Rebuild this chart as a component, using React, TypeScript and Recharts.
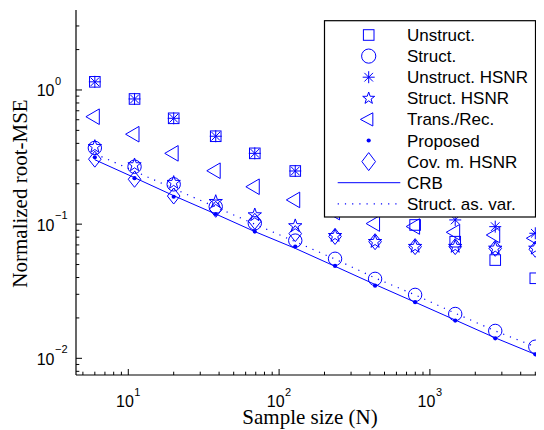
import React from 'react';
import { LineChart, Line, XAxis, YAxis } from 'recharts';

// ---------------- data ----------------
const sampleSizes = [6, 11, 20, 38, 69, 128, 235, 433, 798, 1472, 2712, 5000];
const unstruct = [1.15, 0.857, 0.615, 0.452, 0.337, 0.249, 0.185, 0.135, 0.0986, 0.074, 0.054, 0.0395];
const structured = [0.37, 0.268, 0.198, 0.135, 0.1016, 0.0754, 0.0552, 0.0391, 0.0297, 0.0214, 0.016, 0.0122];
const unstructHSNR = [1.15, 0.857, 0.615, 0.452, 0.337, 0.249, 0.19, 0.15, 0.125, 0.1075, 0.0958, 0.0855];
const structHSNR = [0.378, 0.276, 0.204, 0.147, 0.117, 0.097, 0.082, 0.074, 0.068, 0.068, 0.066, 0.066];
const transRec = [0.632, 0.468, 0.337, 0.25, 0.19, 0.1515, 0.123, 0.101, 0.096, 0.087, 0.083, 0.0785];
const proposed = [0.315, 0.22, 0.16, 0.119, 0.088, 0.068, 0.0488, 0.0348, 0.0262, 0.0191, 0.0141, 0.0107];
const covHSNR = [0.305, 0.216, 0.162, 0.129, 0.105, 0.085, 0.081, 0.074, 0.068, 0.068, 0.066, 0.065];
const crb = [0.302, 0.222, 0.163, 0.119, 0.088, 0.066, 0.0485, 0.0355, 0.0262, 0.0193, 0.0142, 0.0107];
const structAsVar = [0.335, 0.248, 0.184, 0.134, 0.1, 0.074, 0.0549, 0.0397, 0.0297, 0.0217, 0.016, 0.0122];

const xMajorTicks = [10, 100, 1000];
const xExponents = ['1', '2', '3'];
const xMinorTicks = [5, 6, 7, 8, 9, 20, 30, 40, 50, 60, 70, 80, 90, 200, 300, 400, 500, 600, 700, 800, 900, 2000, 3000, 4000, 5000];
const yMajorTicks = [0.01, 0.1, 1];
const yExponents = ['\u22122', '\u22121', '0'];
const yMinorTicks = [0.008, 0.009, 0.02, 0.03, 0.04, 0.05, 0.06, 0.07, 0.08, 0.09, 0.2, 0.3, 0.4, 0.5, 0.6, 0.7, 0.8, 0.9, 2, 3];

const xTitle = 'Sample size (N)';
const yTitle = 'Normalized root-MSE';

const legendItems = [
  { label: 'Unstruct.', kind: 'square' },
  { label: 'Struct.', kind: 'circle' },
  { label: 'Unstruct. HSNR', kind: 'asterisk' },
  { label: 'Struct. HSNR', kind: 'star' },
  { label: 'Trans./Rec.', kind: 'triangle' },
  { label: 'Proposed', kind: 'dot' },
  { label: 'Cov. m. HSNR', kind: 'diamond' },
  { label: 'CRB', kind: 'solid' },
  { label: 'Struct. as. var.', kind: 'dotted' },
];

const rows = sampleSizes.map((n, i) => ({
  n,
  unstruct: unstruct[i],
  structured: structured[i],
  unstructHSNR: unstructHSNR[i],
  structHSNR: structHSNR[i],
  transRec: transRec[i],
  proposed: proposed[i],
  covHSNR: covHSNR[i],
  crb: crb[i],
  structAsVar: structAsVar[i],
}));

// ---------------- styling ----------------
const BLUE = '#0000ff';
const SANS = '"Liberation Sans", Arial, Helvetica, sans-serif';
const SERIF = '"Liberation Serif", "Times New Roman", Times, serif';
const AXIS_W = 1.2;

function Marker({ kind, cx, cy, big = false }: { kind: string; cx: number; cy: number; big?: boolean }) {
  const s = { fill: 'none', stroke: BLUE, strokeWidth: 1 } as const;
  if (cx == null || cy == null || isNaN(cx) || isNaN(cy)) return null;
  switch (kind) {
    case 'square': {
      const h = 5.3;
      return <rect x={cx - h} y={cy - h} width={2 * h} height={2 * h} {...s} />;
    }
    case 'circle':
      return <circle cx={cx} cy={cy} r={big ? 7.1 : 6.7} {...s} />;
    case 'asterisk': {
      const r = 6;
      const d = r * 0.72;
      return (
        <path
          d={`M${cx - r},${cy}L${cx + r},${cy}M${cx},${cy - r}L${cx},${cy + r}M${cx - d},${cy - d}L${cx + d},${cy + d}M${cx - d},${cy + d}L${cx + d},${cy - d}`}
          {...s}
        />
      );
    }
    case 'star': {
      const R = big ? 6.3 : 7;
      const r = R * 0.4;
      const pts: string[] = [];
      for (let k = 0; k < 10; k++) {
        const a = -Math.PI / 2 + (k * Math.PI) / 5;
        const rr = k % 2 === 0 ? R : r;
        pts.push(`${(cx + rr * Math.cos(a)).toFixed(2)},${(cy + rr * Math.sin(a)).toFixed(2)}`);
      }
      return <polygon points={pts.join(' ')} {...s} />;
    }
    case 'triangle': {
      const w = big ? 12.4 : 13.4;
      const h = big ? 6.6 : 7.8;
      return (
        <polygon
          points={`${cx - (2 * w) / 3},${cy} ${cx + w / 3},${cy - h} ${cx + w / 3},${cy + h}`}
          {...s}
        />
      );
    }
    case 'diamond': {
      const w = big ? 6.8 : 6.3;
      const h = big ? 9 : 8;
      return <polygon points={`${cx},${cy - h} ${cx + w},${cy} ${cx},${cy + h} ${cx - w},${cy}`} {...s} />;
    }
    case 'dot':
      return <circle cx={cx} cy={cy} r={2.1} fill={BLUE} stroke="none" />;
    default:
      return null;
  }
}

const dotFor = (kind: string) => (p: any) => (
  <Marker key={`${kind}-${p.index}`} kind={kind} cx={p.cx} cy={p.cy} />
);

// ---------------- ticks ----------------
const isMajorX = (v: number) => xMajorTicks.indexOf(v) >= 0;
const isMajorY = (v: number) => yMajorTicks.indexOf(v) >= 0;

const XTickBottom = (props: any) => {
  const { x, y, payload } = props;
  const v = payload.value;
  const idx = xMajorTicks.indexOf(v);
  const major = idx >= 0;
  return (
    <g>
      <line x1={x} x2={x} y1={y} y2={y - (major ? 6 : 3.3)} stroke="#000" strokeWidth={1} />
      {major && (
        <g fontFamily={SANS} fill="#000">
          <text x={x + 5.5} y={y + 32} textAnchor="end" fontSize={16}>10</text>
          <text x={x + 6} y={y + 20.5} textAnchor="start" fontSize={11}>{xExponents[idx]}</text>
        </g>
      )}
    </g>
  );
};

const XTickTop = (props: any) => {
  const { x, y, payload } = props;
  const major = isMajorX(payload.value);
  return <line x1={x} x2={x} y1={y} y2={y + (major ? 6 : 3.3)} stroke="#000" strokeWidth={1} />;
};

const YTickLeft = (props: any) => {
  const { x, y, payload } = props;
  const v = payload.value;
  const idx = yMajorTicks.indexOf(v);
  const major = idx >= 0;
  return (
    <g>
      <line x1={x} x2={x + (major ? 6 : 3.3)} y1={y} y2={y} stroke="#000" strokeWidth={1} />
      {major && (
        <g fontFamily={SANS} fill="#000">
          <text x={x - 21.5} y={y + 6.5} textAnchor="end" fontSize={16}>10</text>
          <text x={x - 21} y={y - 5} textAnchor="start" fontSize={11}>{yExponents[idx]}</text>
        </g>
      )}
    </g>
  );
};

const YTickRight = (props: any) => {
  const { x, y, payload } = props;
  const major = isMajorY(payload.value);
  return <line x1={x} x2={x - (major ? 6 : 3.3)} y1={y} y2={y} stroke="#000" strokeWidth={1} />;
};

const XTitle = (props: any) => {
  const vb = props.viewBox || {};
  return (
    <text x={vb.x + vb.width / 2} y={vb.y + 49} textAnchor="middle" fontFamily={SERIF} fontSize={21} fill="#000">
      {xTitle}
    </text>
  );
};

const YTitle = (props: any) => {
  const vb = props.viewBox || {};
  const cx = 19;
  const cy = vb.y + vb.height / 2 + 1;
  return (
    <text
      x={cx}
      y={cy}
      transform={`rotate(-90, ${cx}, ${cy})`}
      textAnchor="middle"
      fontFamily={SERIF}
      fontSize={21}
      fill="#000"
    >
      {yTitle}
    </text>
  );
};

const xAllTicks = [...xMinorTicks.slice(0, 5), ...xMajorTicks, ...xMinorTicks.slice(5)].sort((a, b) => a - b);
const yAllTicks = [...yMinorTicks, ...yMajorTicks].sort((a, b) => a - b);

const X_DOMAIN: [number, number] = [4.5, 5710];
const Y_DOMAIN: [number, number] = [0.00751, 3.945];

// ---------------- legend ----------------
function LegendBox() {
  const bx = 316.5;
  const by = 12.7;
  const bw = 211;
  const bh = 196.3;
  const mx = 360.7;
  const tx = 399;
  const row0 = 27;
  const step = 21.1;
  return (
    <svg
      width={536}
      height={422}
      style={{ position: 'absolute', left: 0, top: 0, pointerEvents: 'none' }}
    >
      <rect x={bx} y={by} width={bw} height={bh} fill="#fff" stroke="#000" strokeWidth={1.2} />
      {legendItems.map((it, i) => {
        const cy = row0 + i * step;
        let glyph: React.ReactNode;
        if (it.kind === 'solid') {
          glyph = <line x1={329.7} x2={392.3} y1={cy} y2={cy} stroke={BLUE} strokeWidth={1} />;
        } else if (it.kind === 'dotted') {
          glyph = (
            <line x1={329.7} x2={392.3} y1={cy} y2={cy} stroke={BLUE} strokeWidth={1.2} strokeDasharray="1.2 6" />
          );
        } else {
          glyph = <Marker kind={it.kind} cx={mx} cy={cy} big />;
        }
        return (
          <g key={it.label}>
            {glyph}
            <text x={tx} y={cy + 6} fontFamily={SANS} fontSize={17} fill="#000">
              {it.label}
            </text>
          </g>
        );
      })}
    </svg>
  );
}

// ---------------- chart ----------------
export default function App() {
  return (
    <div style={{ position: 'relative', width: 536, height: 422 }}>
      <LineChart width={536} height={422} data={rows} margin={{ top: 2, right: 0, bottom: 0, left: 0 }}>
        <XAxis
          xAxisId="b"
          dataKey="n"
          type="number"
          scale="log"
          domain={X_DOMAIN}
          allowDataOverflow
          ticks={xAllTicks}
          interval={0}
          tick={XTickBottom}
          tickLine={false}
          tickSize={0}
          tickMargin={0}
          axisLine={{ stroke: '#000', strokeWidth: AXIS_W }}
          height={55}
          label={{ content: XTitle }}
        />
        <XAxis
          xAxisId="t"
          orientation="top"
          dataKey="n"
          type="number"
          scale="log"
          domain={X_DOMAIN}
          allowDataOverflow
          ticks={xAllTicks}
          interval={0}
          tick={XTickTop}
          tickLine={false}
          tickSize={0}
          tickMargin={0}
          axisLine={{ stroke: '#000', strokeWidth: AXIS_W }}
          height={0}
        />
        <YAxis
          yAxisId="l"
          type="number"
          scale="log"
          domain={Y_DOMAIN}
          allowDataOverflow
          ticks={yAllTicks}
          interval={0}
          tick={YTickLeft}
          tickLine={false}
          tickSize={0}
          tickMargin={0}
          axisLine={{ stroke: '#000', strokeWidth: AXIS_W }}
          width={68}
          label={{ content: YTitle }}
        />
        <YAxis
          yAxisId="r"
          orientation="right"
          type="number"
          scale="log"
          domain={Y_DOMAIN}
          allowDataOverflow
          ticks={yAllTicks}
          interval={0}
          tick={YTickRight}
          tickLine={false}
          tickSize={0}
          tickMargin={0}
          axisLine={{ stroke: '#000', strokeWidth: AXIS_W }}
          width={0}
        />
        <Line xAxisId="b" yAxisId="l" dataKey="crb" stroke={BLUE} strokeWidth={1} dot={false} activeDot={false} isAnimationActive={false} />
        <Line xAxisId="b" yAxisId="l" dataKey="structAsVar" stroke={BLUE} strokeWidth={1.2} strokeDasharray="1.2 6" dot={false} activeDot={false} isAnimationActive={false} />
        <Line xAxisId="b" yAxisId="l" dataKey="unstruct" stroke="none" dot={dotFor('square')} activeDot={false} isAnimationActive={false} />
        <Line xAxisId="b" yAxisId="l" dataKey="structured" stroke="none" dot={dotFor('circle')} activeDot={false} isAnimationActive={false} />
        <Line xAxisId="b" yAxisId="l" dataKey="unstructHSNR" stroke="none" dot={dotFor('asterisk')} activeDot={false} isAnimationActive={false} />
        <Line xAxisId="b" yAxisId="l" dataKey="structHSNR" stroke="none" dot={dotFor('star')} activeDot={false} isAnimationActive={false} />
        <Line xAxisId="b" yAxisId="l" dataKey="transRec" stroke="none" dot={dotFor('triangle')} activeDot={false} isAnimationActive={false} />
        <Line xAxisId="b" yAxisId="l" dataKey="proposed" stroke="none" dot={dotFor('dot')} activeDot={false} isAnimationActive={false} />
        <Line xAxisId="b" yAxisId="l" dataKey="covHSNR" stroke="none" dot={dotFor('diamond')} activeDot={false} isAnimationActive={false} />
      </LineChart>
      <LegendBox />
    </div>
  );
}
